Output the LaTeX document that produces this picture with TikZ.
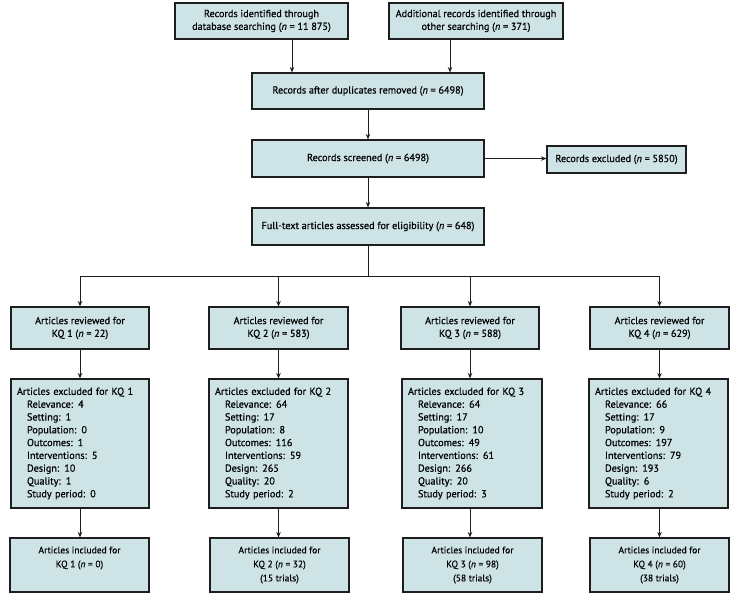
\documentclass[tikz,border=0pt]{standalone}
\usepackage{fontspec}
\setmainfont{PT Sans}[FakeBold=0.6]
\newfontfamily\incfont{PT Sans}[FakeBold=0.25]
\usetikzlibrary{arrows.meta}
\definecolor{boxfill}{RGB}{205,227,230}
\definecolor{lineink}{RGB}{30,30,30}
\tikzset{
  box/.style={draw=lineink, line width=1.1pt, fill=boxfill, rectangle, inner sep=0pt,
    align=center, font=\fontsize{10.2}{12.8}\selectfont},
  incbox/.style={box, font=\incfont\fontsize{9.5}{14}\selectfont},
  leftbox/.style={box, align=left, text width=#1},
  arr/.style={draw=lineink, line width=0.9pt, -{Stealth[length=5.5pt,width=4.5pt]}},
  ln/.style={draw=lineink, line width=0.9pt}
}
\newcommand{\nn}{\textit{n}}
\begin{document}
\begin{tikzpicture}[x=1pt,y=-1pt]
\useasboundingbox (0,0) rectangle (743,602);
% top
\node[box, minimum width=173pt, minimum height=36pt] (tl) at (261.5,21) {Records identified through\\database searching (\nn{} = 11 875)};
\node[box, minimum width=174pt, minimum height=36pt] (tr) at (476,21) {Additional records identified through\\other searching (\nn{} = 371)};
\node[box, minimum width=232pt, minimum height=36pt] (dedup) at (368,91) {Records after duplicates removed (\nn{} = 6498)};
\node[box, minimum width=232pt, minimum height=37pt] (screen) at (368,158.5) {Records screened (\nn{} = 6498)};
\node[box, minimum width=139pt, minimum height=27pt] (recex) at (616.5,159.5) {Records excluded (\nn{} = 5850)};
\node[box, minimum width=232pt, minimum height=37pt] (full) at (368,226.5) {Full-text articles assessed for eligibility (\nn{} = 648)};
\coordinate (a1) at (292,0);
\coordinate (a2) at (450,0);
\coordinate (br) at (368,276);
% reviewed
\node[box, minimum width=138pt, minimum height=42pt] (rev1) at (80,328) {Articles reviewed for\\KQ 1 (\nn{} = 22)};
\node[box, minimum width=139pt, minimum height=42pt] (rev2) at (278.5,328) {Articles reviewed for\\KQ 2 (\nn{} = 583)};
\node[box, minimum width=138pt, minimum height=42pt] (rev3) at (470,328) {Articles reviewed for\\KQ 3 (\nn{} = 588)};
\node[box, minimum width=139pt, minimum height=42pt] (rev4) at (659.5,328) {Articles reviewed for\\KQ 4 (\nn{} = 629)};
% excluded
\node[leftbox=126pt, minimum width=138pt, minimum height=129pt] (exc1) at (80,443.5) {Articles excluded for KQ 1\\
\hspace*{10pt}Relevance: 4\\\hspace*{10pt}Setting: 1\\\hspace*{10pt}Population: 0\\\hspace*{10pt}Outcomes: 1\\\hspace*{10pt}Interventions: 5\\\hspace*{10pt}Design: 10\\\hspace*{10pt}Quality: 1\\\hspace*{10pt}Study period: 0};
\node[leftbox=127pt, minimum width=139pt, minimum height=129pt] (exc2) at (278.5,443.5) {Articles excluded for KQ 2\\
\hspace*{10pt}Relevance: 64\\\hspace*{10pt}Setting: 17\\\hspace*{10pt}Population: 8\\\hspace*{10pt}Outcomes: 116\\\hspace*{10pt}Interventions: 59\\\hspace*{10pt}Design: 265\\\hspace*{10pt}Quality: 20\\\hspace*{10pt}Study period: 2};
\node[leftbox=128pt, minimum width=140pt, minimum height=129pt] (exc3) at (472,443.5) {Articles excluded for KQ 3\\
\hspace*{10pt}Relevance: 64\\\hspace*{10pt}Setting: 17\\\hspace*{10pt}Population: 10\\\hspace*{10pt}Outcomes: 49\\\hspace*{10pt}Interventions: 61\\\hspace*{10pt}Design: 266\\\hspace*{10pt}Quality: 20\\\hspace*{10pt}Study period: 3};
\node[leftbox=127pt, minimum width=139pt, minimum height=129pt] (exc4) at (658.5,443.5) {Articles excluded for KQ 4\\
\hspace*{10pt}Relevance: 66\\\hspace*{10pt}Setting: 17\\\hspace*{10pt}Population: 9\\\hspace*{10pt}Outcomes: 197\\\hspace*{10pt}Interventions: 79\\\hspace*{10pt}Design: 193\\\hspace*{10pt}Quality: 6\\\hspace*{10pt}Study period: 2};
% included
\node[incbox, minimum width=139pt, minimum height=54pt] (inc1) at (79.5,565) {Articles included for\\KQ 1 (\nn{} = 0)\\\phantom{(0 trials)}};
\node[incbox, minimum width=139pt, minimum height=54pt] (inc2) at (279.5,565) {Articles included for\\KQ 2 (\nn{} = 32)\\(15 trials)};
\node[incbox, minimum width=139pt, minimum height=54pt] (inc3) at (472.5,565) {Articles included for\\KQ 3 (\nn{} = 98)\\(58 trials)};
\node[incbox, minimum width=139pt, minimum height=54pt] (inc4) at (659.5,565) {Articles included for\\KQ 4 (\nn{} = 60)\\(38 trials)};
% connectors
\draw[arr] (tl.south -| a1) -- (dedup.north -| a1);
\draw[arr] (tr.south -| a2) -- (dedup.north -| a2);
\draw[arr] (dedup.south) -- (screen.north);
\draw[arr] (screen.east) -- (screen.east -| recex.west);
\draw[arr] (screen.south) -- (full.north);
\draw[ln] (full.south) -- (br);
\draw[ln] (rev1.north |- br) -- (rev4.north |- br);
\foreach \i in {1,2,3,4}{
  \draw[arr] (rev\i.north |- br) -- (rev\i.north);
  \draw[arr] (rev\i.south) -- (rev\i.south |- exc\i.north);
  \draw[arr] (rev\i.south |- exc\i.south) -- (rev\i.south |- inc\i.north);
}
\end{tikzpicture}
\end{document}
